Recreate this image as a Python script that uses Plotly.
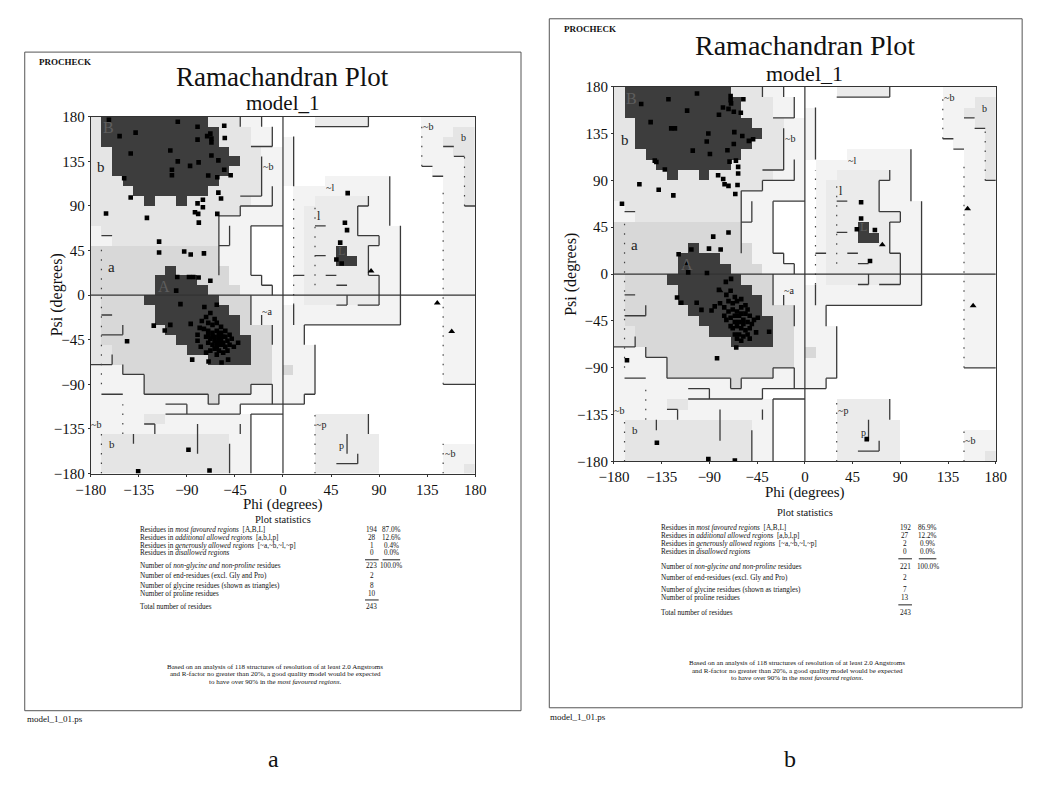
import plotly.graph_objects as go

W, H = 1039, 803
SERIF = "Liberation Serif, Times New Roman, serif"

# ---------------- data ----------------
AXIS_TICKS = [-180, -135, -90, -45, 0, 45, 90, 135, 180]

# Region map, 10-degree cells. rows: psi 180 -> -180, cols: phi -180 -> 180
# '.' disallowed, 'g' generous, 'p' allowed (l/p), 'b' allowed (b), 'a' allowed (a), 'X' core
REGION_ROWS = [
    "bXXXXXXXXXXbbbgg.." + "...ppppp.....ggggg",
    "bXXXXXXXXXXXbbbgg." + ".............gggbb",
    "bXXXXXXXXXXXbbbgg." + "g............ggbbb",
    "bbXXXXXXXXXXXbbbgg" + "g............gggbb",
    "bbXXXXXXXXXXXXbbgg" + "g............ggggb",
    "bbXXXXXXXXXXXbbbgg" + "g.............gggb",
    "bbbXXXXXXXXXbbbbgg" + "g...gggggg.....ggb",
    "bbbbXXXXXXXbbbbbgg" + ".ggggggggg.....ggb",
    "bbbbbXbbXbbbbbbggg" + ".ggpppppgg.....ggb",
    "bbbbbbbbbbbbbbgggg" + ".gpppppggg.....ggg",
    "bbbbbbbbbbbbgggggg" + ".gpppppggg.....ggg",
    "gbbbbbbbbbbbggg..." + ".gpppppgggg....ggg",
    "ggbbbbbbbbbbggg..." + ".gpppppppgg....ggg",
    "aaaaaaaaaaaaggg..." + ".gpppXppggg....ggg",
    "aaaaaaaaaaaaggg..." + ".gpppXXpggg....ggg",
    "aaaaaaaXaaaaagg..." + ".gppppppggg....ggg",
    "aaaaaaXXXXaaaggg.." + ".gpppppppgg....ggg",
    "aaaaaaXXXXXaaaggg." + ".gpppppppgg....ggg",
    "baaaaXXXXXXXaaaggg" + ".gpppppppgg....ggg",
    "baaaaaXXXXXXXaaggg" + "ggggggggggg....ggg",
    "baaaaaXXXXXXXXaggg" + "ggggggggggg....ggg",
    "baaaaaaXXXXXXXaaag" + "gg.............ggg",
    "baaaaaaaXXXXXXXaag" + "gg.............ggg",
    "bbaaaaaaaXXXXXXaag" + "ggg............ggg",
    "bbaaaaaaaaaXXXXaag" + "ggg............ggg",
    "gggaaaaaaaaaaaaaag" + "agg............ggg",
    "gggggaaaaaaaaaaaag" + "ggg............ggg",
    "gggggaaaaaaaaaaggg" + "ggg...............",
    "gggggggggggagggggg" + "gg................",
    "gggggggggggggg...." + "..................",
    "gggggbbgggggggg..." + "...ppppp..........",
    "ggggggggggggggg..." + "...ppppp..........",
    "gbbbbbbbbbbbbgg..." + "...pppppp.........",
    "gbbbbbbbbbbbbgg..." + "...pppppp......ggg",
    "gbbbbbbbbbbbbgg..." + "...pppppp......ggg",
    "gbbbbbbbbbbbbgg..." + "...pppppp......ggb",
]
REGION_CODES = [".", "g", "p", "b", "a", "X"]
REGION_COLORS = ["#ffffff", "#f3f3f3", "#ebebeb", "#e5e5e5", "#d8d8d8", "#3d3d3d"]

# boundary lines (phi1, psi1, phi2, psi2)
SOLID_SEGMENTS = [
    (-40, 170, -40, 180), (-20, 170, -20, 180), (-10, 150, -10, 170), (-30, 150, -10, 150),
    (-20, 100, -20, 140), (-40, 100, -20, 100), (-10, 90, -10, 110), (-40, 90, -10, 90),
    (-40, 80, -40, 90), (-60, 80, -40, 80), (-60, 20, -60, 80), (-50, 50, -50, 70),
    (-60, 50, -50, 50), (-30, 70, 0, 70), (-30, 20, -30, 70), (-30, 20, -20, 20),
    (-20, 10, -20, 20), (-20, 10, -10, 10), (-10, 0, -10, 10),
    (-170, 60, -160, 60), (-170, -20, -160, -20), (-170, -40, -150, -40), (-150, -40, -150, -30),
    (-180, -70, -160, -70), (-160, -70, -160, -60), (-150, -80, -150, -70), (-150, -80, -130, -80),
    (-130, -100, -130, -80), (-130, -100, -70, -100), (-70, -110, -70, -100), (-70, -110, -60, -110),
    (-60, -110, -60, -100), (-60, -100, -30, -100), (-30, -100, -30, -90), (-30, -90, -10, -90),
    (-10, -110, -10, -90), (-30, -30, -30, 0), (-20, -30, -20, -20), (-10, -50, -10, -30),
    (-170, -100, -150, -100), (-110, -110, -90, -110), (-90, -120, -90, -110), (-110, -120, -40, -120),
    (-40, -120, -40, -110), (-40, -110, 0, -110), (-30, -120, 0, -120), (-30, -180, -30, -120),
    (-40, -140, -40, -130), (-130, -130, -120, -130), (-120, -140, -120, -130), (-140, -150, -140, -140),
    (-80, -160, -80, -130), (-50, -180, -50, -150),
    (10, 110, 10, 160), (30, 170, 80, 170), (80, 170, 80, 180), (130, 130, 140, 130),
    (140, 120, 150, 120), (150, 150, 160, 150), (160, 140, 170, 140), (170, 90, 180, 90),
    (150, -90, 180, -90), (100, 70, 100, 120), (110, -30, 110, 70), (20, -30, 110, -30),
    (80, 90, 80, 100), (70, 90, 80, 90), (70, 60, 70, 90), (70, 60, 90, 60), (90, 50, 90, 60),
    (80, 50, 90, 50), (80, 20, 80, 50), (80, 20, 90, 20), (90, -10, 90, 20), (70, -10, 90, -10),
    (60, -10, 60, 0), (50, -10, 60, -10), (30, 70, 40, 70), (30, 40, 40, 40), (10, 20, 20, 20),
    (40, 20, 50, 20), (50, 10, 60, 10), (10, -30, 10, -10), (20, -50, 20, -30), (30, -100, 30, -50),
    (20, -100, 30, -100), (20, -110, 20, -100), (0, -110, 20, -110),
    (80, -140, 80, -120), (60, -160, 60, -140), (50, -170, 70, -170), (70, -170, 70, -160),
]
DOTTED_SEGMENTS = [
    (-170, -90, -170, 50), (-170, -180, -170, -140), (150, -90, 150, 110), (130, 130, 130, 170),
    (170, 90, 170, 140), (10, -10, 10, 100), (30, 10, 30, 90), (30, -180, 30, -120),
    (150, -180, 150, -150), (-150, -140, -150, -110),
]

# region labels: (text, phi, psi, size, colour)
REGION_LABELS = [
    ("B", -163, 169, 16, "#5e5e5e"), ("b", -170, 129, 15, "#222"), ("~b", -14, 130, 10, "#222"),
    ("a", -161, 28, 15, "#222"), ("A", -111, 9, 16, "#5e5e5e"), ("~a", -15, -16, 10, "#222"),
    ("~l", 44, 109, 10, "#222"), ("l", 34, 80, 12, "#222"), ("L", 55, 45, 12, "#5e5e5e"),
    ("~b", 136, 170, 10, "#222"), ("b", 169, 159, 10, "#222"), ("~b", -175, -131, 10, "#222"),
    ("b", -160, -150, 11, "#222"), ("~p", 36, -131, 10, "#222"), ("p", 55, -152, 10, "#222"),
    ("~b", 156, -160, 10, "#222"),
]

# plot a: non-glycine residues (phi, psi)
A_RESIDUES = [
    (-163, 177), (-98.5, 175), (-80, 170), (-55, 171), (-153, 160.5), (-138, 164), (-71, 160.5),
    (-68, 163), (-67, 158), (-67, 154), (-80, 157), (-54.5, 158.6), (-142.6, 143), (-105.5, 146),
    (-67, 141), (-60.5, 136), (-98.5, 135), (-79, 134), (-87, 130.5), (-104, 126.5), (-104, 121),
    (-55, 126.5), (-49, 121), (-70, 120.7), (-61.5, 119), (-148.7, 118), (-142.6, 98.6), (-60.5, 103.5),
    (-58, 97.6), (-75, 96.3), (-80, 92.6), (-75, 88.7), (-82.4, 83.7), (-79.4, 82), (-61.5, 82),
    (-78.8, 73.2), (-165.7, 82.4), (-127.4, 78), (-116, 54), (-116, 43), (-92.5, 44), (-86.4, 41),
    (-74, 42.2), (-99, 18.4), (-88, 18.4), (-84, 18.4), (-79, 17.8), (-68, 14.5), (-100, 4.6),
    (60.6, 103), (58, 73), (60, 65.6), (53.6, 53), (50, 36), (55, 32),
    (-96, -9), (-73.6, -12), (-62, -9.6), (-121, -30.7), (-105.5, -30), (-110.7, -35.6), (-146, -46.5),
    (-86.4, -29), (-78, -33), (-80, -40), (-85, -65), (-69.7, -67), (-57.5, -68), (-51.4, -65),
    (-42, -48), (-88.5, -156), (-68.8, -177), (-135.6, -177.7),
    (-72, -22), (-68, -18), (-64, -24), (-70, -28), (-66, -30), (-62, -28), (-58, -32), (-74, -34),
    (-70, -36), (-66, -38), (-62, -36), (-58, -38), (-54, -36), (-50, -40), (-72, -42), (-68, -44),
    (-64, -42), (-60, -44), (-56, -42), (-52, -46), (-48, -44), (-70, -48), (-66, -50), (-62, -48),
    (-58, -50), (-54, -52), (-50, -50), (-64, -54), (-60, -56), (-56, -58), (-52, -56), (-68, -56),
    (-62, -60), (-58, -46), (-64, -46), (-60, -40), (-56, -48), (-62, -52), (-66, -42), (-54, -42),
    (-46, -52), (-70, -40), (-76, -26), (-80, -46), (-77, -52), (-72, -58),
]
A_GLYCINES = [(82.5, 24.4), (144.5, -8), (158, -36.6)]

# plot b
B_RESIDUES = [
    (-101.7, 173.4), (-70, 171), (-70, 167), (-69.6, 164), (-58, 168), (-128.6, 168), (-154.3, 163.4),
    (-111, 157), (-77.2, 160), (-72, 158.7), (-67, 156), (-60.4, 155), (-81, 153), (-145.4, 146),
    (-126, 140), (-122.5, 140), (-91, 135), (-66.5, 136.4), (-92.5, 127.3), (-59, 132.7), (-52.8, 128),
    (-48.8, 129.5), (-67, 125), (-105.7, 118.6), (-89.5, 115.4), (-73, 119), (-141.5, 109),
    (-140, 107.6), (-132, 100.4), (-65, 109), (-71, 108), (-62.9, 103), (-62.9, 96.6), (-81.8, 95),
    (-77, 91.3), (-75.7, 86.3), (-72, 84.7), (-63.5, 85.6), (-65.6, 76.9), (-156, 86.3), (-137.8, 81),
    (-124, 75.6), (-172.4, 67.5), (-72, 40), (-86.4, 36), (-90.4, 24.5), (-79.4, 23.6), (-107, 23.6),
    (-119, 19), (-110, 1.6), (-92.3, 1), (-74.5, -7.5), (-69.6, -4.6), (-81, -15), (-120.5, -22.5),
    (-116.5, -27.5), (-102, -27.5), (-97.5, -34.4), (-88, -35), (-85, -31), (-64.7, -70.5),
    (-82.8, -80.8), (-167.7, -82.7), (-139.5, -162), (-91, -177.7), (-66, -179), (58.3, -158.5),
    (53, 69), (53, 53.4), (49, 43), (66, 42.4), (61.4, 12.6), (-33.7, -55.4), (-44.4, -42),
    (-74, -20), (-70, -16), (-66, -22), (-72, -26), (-68, -28), (-64, -26), (-60, -24), (-56, -30),
    (-76, -32), (-72, -36), (-68, -34), (-64, -36), (-60, -32), (-56, -38), (-52, -40), (-74, -44),
    (-70, -42), (-66, -46), (-62, -40), (-58, -44), (-54, -46), (-50, -48), (-68, -52), (-64, -50),
    (-60, -52), (-56, -54), (-52, -52), (-62, -58), (-58, -60), (-54, -58), (-66, -58), (-60, -64),
    (-64, -62), (-58, -48), (-62, -46), (-66, -40), (-60, -38), (-54, -34), (-48, -44), (-70, -50),
    (-76, -40), (-80, -28), (-46, -56), (-52, -62),
]
B_GLYCINES = [(-111.3, 9.5), (73, 28.3), (153.4, 62.8), (158.6, -30.3), (-80, -16)]

STAT_LABELS = [
    "Residues in <i>most favoured regions</i>  [A,B,L]",
    "Residues in <i>additional allowed regions</i>  [a,b,l,p]",
    "Residues in <i>generously allowed regions</i>  [~a,~b,~l,~p]",
    "Residues in <i>disallowed regions</i>",
    "Number of <i>non-glycine and non-proline</i> residues",
    "Number of end-residues (excl. Gly and Pro)",
    "Number of glycine residues (shown as triangles)",
    "Number of proline residues",
    "Total number of residues",
]
A_COUNTS = ["194", "28", "1", "0", "223", "2", "8", "10", "243"]
A_PERCENTS = ["87.0%", "12.6%", "0.4%", "0.0%", "100.0%", "", "", "", ""]
B_COUNTS = ["192", "27", "2", "0", "221", "2", "7", "13", "243"]
B_PERCENTS = ["86.9%", "12.2%", "0.9%", "0.0%", "100.0%", "", "", "", ""]
NOTE_LINES = [
    "Based on an analysis of 118 structures of resolution of at least 2.0 Angstroms",
    "and R-factor no greater than 20%, a good quality model would be expected",
    "to have over 90% in the <i>most favoured regions</i>.",
]

# ---------------- layout geometry (pixels) ----------------
PANELS = [
    dict(name="a", res=A_RESIDUES, gly=A_GLYCINES, counts=A_COUNTS, pcts=A_PERCENTS,
         plot=(77.7, 111, 472, 475), frame=(10, 45, 519, 717), procheck=(24, 55),
         title_y=70, sub_y=97, psi_x=32, phi_y=507, stats_y=522,
         rows_y=[532.5, 540.5, 548.5, 556.5, 569.5, 579.5, 589.5, 597.5, 611], dash1=563, dash2=604,
         lab_x=127, cnt_x=366, pct_x=386, note_y=[672, 680, 688], ps=(11, 725),
         letter=(265, 766), title_size=27, sub_size=21),
    dict(name="b", res=B_RESIDUES, gly=B_GLYCINES, counts=B_COUNTS, pcts=B_PERCENTS,
         plot=(614.3, 80.3, 1006, 462.7), frame=(548, 11, 1033, 714), procheck=(562, 21),
         title_y=38, sub_y=67, psi_x=570, phi_y=494, stats_y=515,
         rows_y=[531, 539, 547, 555, 570, 582, 594, 602, 617], dash1=562, dash2=609,
         lab_x=662, cnt_x=913, pct_x=936, note_y=[668, 676, 684], ps=(548, 723),
         letter=(795, 766), title_size=28, sub_size=22),
]


def px(x):
    return x / W


def py(y):
    return 1 - y / H


fig = go.Figure()
annotations = []
shapes = []

levels = {c: i for i, c in enumerate(REGION_CODES)}
for row in REGION_ROWS:
    assert len(row) == 36, row
z = [[levels[c] for c in row] for row in REGION_ROWS]
cell_x = [-175 + 10 * i for i in range(36)]
cell_y = [175 - 10 * k for k in range(36)]
n = len(REGION_COLORS)
colorscale = []
for i, col in enumerate(REGION_COLORS):
    colorscale += [[i / n, col], [(i + 1) / n, col]]


def seg_xy(segs):
    xs, ys = [], []
    for a, b, c, d in segs:
        xs += [a, c, None]
        ys += [b, d, None]
    return xs, ys


for idx, P in enumerate(PANELS):
    xa = "x" if idx == 0 else "x2"
    ya = "y" if idx == 0 else "y2"
    fig.add_trace(go.Heatmap(z=z, x=cell_x, y=cell_y, colorscale=colorscale, zmin=-0.5,
                             zmax=n - 0.5, showscale=False, hoverinfo="skip", xaxis=xa, yaxis=ya))
    sx, sy = seg_xy(SOLID_SEGMENTS)
    fig.add_trace(go.Scatter(x=sx, y=sy, mode="lines", line=dict(color="#3a3a3a", width=1.3),
                             hoverinfo="skip", xaxis=xa, yaxis=ya, showlegend=False))
    dx, dy = seg_xy(DOTTED_SEGMENTS)
    fig.add_trace(go.Scatter(x=dx, y=dy, mode="lines",
                             line=dict(color="#444", width=1.2, dash="1.5px,8px"),
                             hoverinfo="skip", xaxis=xa, yaxis=ya, showlegend=False))
    fig.add_trace(go.Scatter(x=[0, 0, None, -180, 180], y=[-180, 180, None, 0, 0], mode="lines",
                             line=dict(color="#333", width=1.2), hoverinfo="skip",
                             xaxis=xa, yaxis=ya, showlegend=False))
    fig.add_trace(go.Scatter(x=[p[0] for p in P["res"]], y=[p[1] for p in P["res"]], mode="markers",
                             marker=dict(symbol="square", size=4.6, color="#000"),
                             xaxis=xa, yaxis=ya, showlegend=False))
    fig.add_trace(go.Scatter(x=[p[0] for p in P["gly"]], y=[p[1] for p in P["gly"]], mode="markers",
                             marker=dict(symbol="triangle-up", size=6, color="#000"),
                             xaxis=xa, yaxis=ya, showlegend=False))

    for text, phi, psi, size, col in REGION_LABELS:
        annotations.append(dict(x=phi, y=psi, xref=xa, yref=ya, text=text, showarrow=False,
                                font=dict(family=SERIF, size=size, color=col)))

    x0, y0, x1, y1 = P["plot"]
    cx = (x0 + x1) / 2
    fx0, fy0, fx1, fy1 = P["frame"]
    shapes.append(dict(type="rect", xref="paper", yref="paper", x0=px(fx0), x1=px(fx1),
                       y0=py(fy1), y1=py(fy0), line=dict(color="#555", width=1)))

    def txt(x, y, s, size, anchor="center"):
        annotations.append(dict(x=px(x), y=py(y), xref="paper", yref="paper", text=s,
                                showarrow=False, xanchor=anchor, yanchor="middle", borderpad=0,
                                font=dict(family=SERIF, size=size, color="#111")))

    txt(P["procheck"][0], P["procheck"][1], "<b>PROCHECK</b>", 9, "left")
    txt(cx, P["title_y"], "Ramachandran Plot", P["title_size"])
    txt(cx, P["sub_y"], "model_1", P["sub_size"])
    txt(cx, P["phi_y"], "Phi (degrees)", 15)
    annotations.append(dict(x=px(P["psi_x"]), y=py((y0 + y1) / 2), xref="paper", yref="paper",
                            text="Psi (degrees)", textangle=-90, showarrow=False,
                            font=dict(family=SERIF, size=16, color="#111")))
    txt(cx, P["stats_y"], "Plot statistics", 10.5)
    for lab, cnt, pct, yy in zip(STAT_LABELS, P["counts"], P["pcts"], P["rows_y"]):
        txt(P["lab_x"], yy, lab, 7.2, "left")
        txt(P["cnt_x"], yy, cnt, 7.2)
        if pct:
            txt(P["pct_x"], yy, pct, 7.2)
    for yy, both in ((P["dash1"], True), (P["dash2"], False)):
        shapes.append(dict(type="line", xref="paper", yref="paper", x0=px(P["cnt_x"] - 7),
                           x1=px(P["cnt_x"] + 7), y0=py(yy), y1=py(yy),
                           line=dict(color="#222", width=1)))
        if both:
            shapes.append(dict(type="line", xref="paper", yref="paper", x0=px(P["pct_x"] - 9),
                               x1=px(P["pct_x"] + 9), y0=py(yy), y1=py(yy),
                               line=dict(color="#222", width=1)))
    for line, yy in zip(NOTE_LINES, P["note_y"]):
        txt(cx - 8, yy, line, 7)
    txt(P["ps"][0], P["ps"][1], "model_1_01.ps", 9, "left")
    txt(P["letter"][0], P["letter"][1], P["name"], 24)

    axis_common = dict(range=[-180, 180], tickvals=AXIS_TICKS, ticks="outside", ticklen=2,
                       tickwidth=1, tickcolor="#333", showline=True, linecolor="#333",
                       linewidth=1, mirror=True, showgrid=False, zeroline=False,
                       tickfont=dict(family=SERIF, size=15, color="#111"), fixedrange=True)
    xkey = "xaxis" if idx == 0 else "xaxis2"
    ykey = "yaxis" if idx == 0 else "yaxis2"
    fig.layout[xkey] = dict(axis_common, domain=[px(x0), px(x1)], anchor=ya)
    fig.layout[ykey] = dict(axis_common, domain=[py(y1), py(y0)], anchor=xa)

fig.update_layout(width=W, height=H, autosize=False, margin=dict(l=0, r=0, t=0, b=0),
                  paper_bgcolor="white", plot_bgcolor="white", showlegend=False,
                  annotations=annotations, shapes=shapes)

fig.write_html("out.html", config={"displayModeBar": False},
               post_script="document.body.style.margin='0px';")
